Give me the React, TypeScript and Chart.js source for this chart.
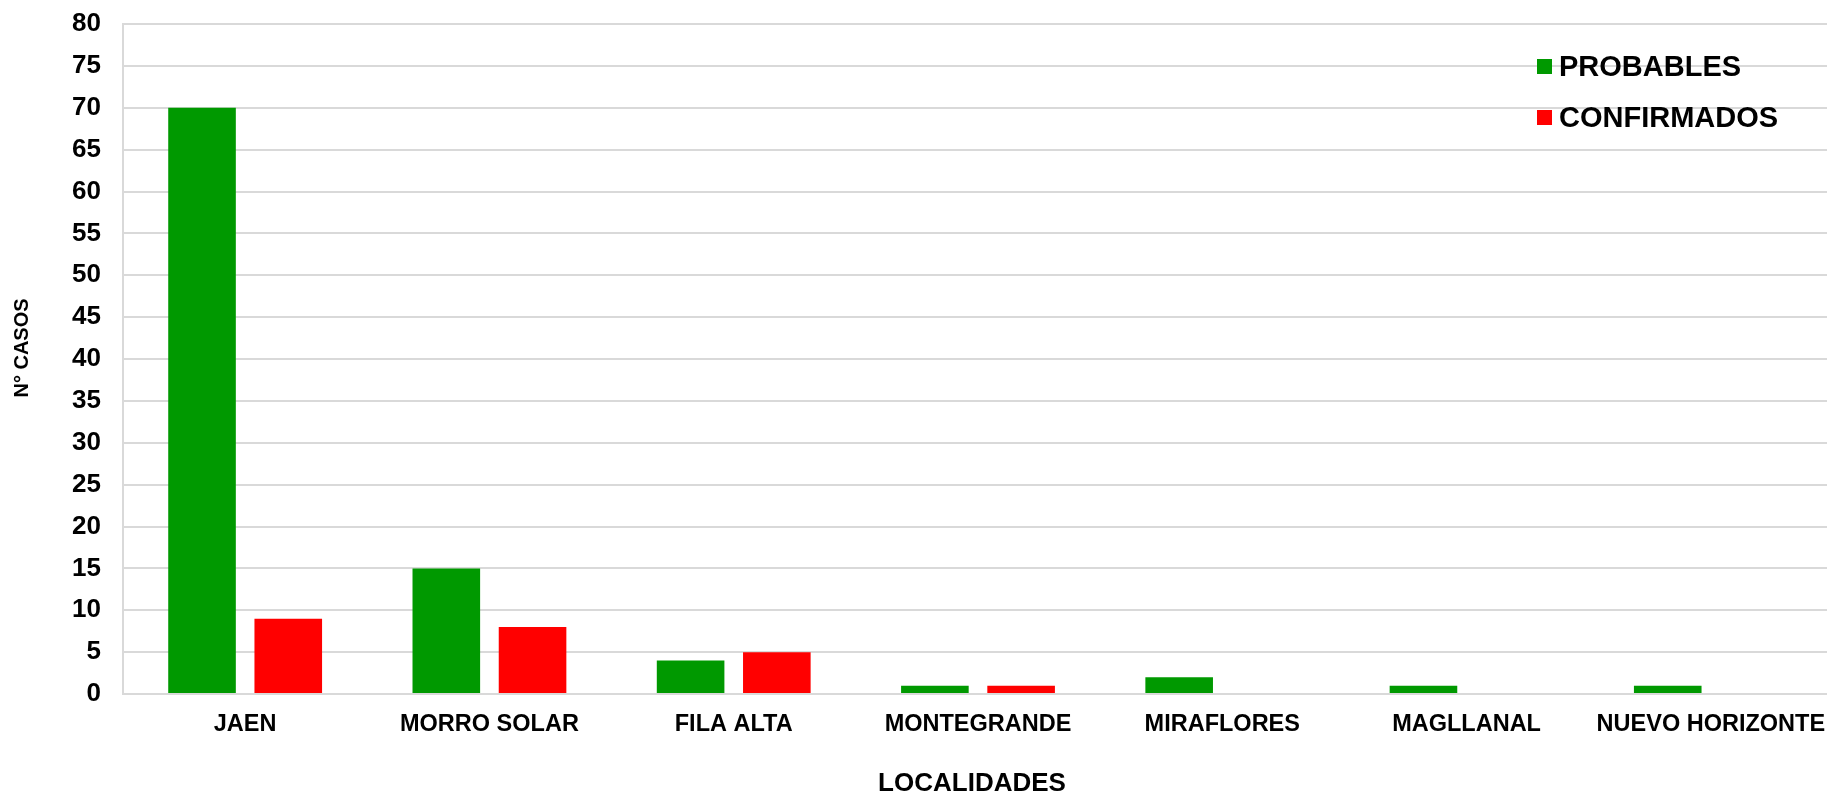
import React, { useEffect, useRef } from "react";
import { Chart, registerables } from "chart.js";

Chart.register(...registerables);

const categories = [
  "JAEN",
  "MORRO SOLAR",
  "FILA ALTA",
  "MONTEGRANDE",
  "MIRAFLORES",
  "MAGLLANAL",
  "NUEVO HORIZONTE",
];
const probables = [70, 15, 4, 1, 2, 1, 1];
const confirmados = [9, 8, 5, 1, 0, 0, 0];
const seriesNames = ["PROBABLES", "CONFIRMADOS"];
const seriesColors = ["#009900", "#FF0000"];
const yTitle = "N° CASOS";
const xTitle = "LOCALIDADES";
const yTickMax = 80;
const yTickStep = 5;

const FONT = "'Liberation Sans', Arial, sans-serif";
const CANVAS_W = 1833;
const VIEW_W = 1827;
const H = 795;

const legendPlugin = {
  id: "customLegend",
  afterDraw(chart: any) {
    const { ctx, chartArea } = chart;
    const x0 = VIEW_W - 290;
    const rowY = [chartArea.top + 42.5, chartArea.top + 93.5];
    ctx.save();
    chart.data.datasets.forEach((ds: any, i: number) => {
      const cy = rowY[i];
      ctx.fillStyle = ds.backgroundColor;
      ctx.fillRect(x0, cy - 7.5, 15, 15);
      ctx.fillStyle = "#000";
      ctx.font = `bold 29px ${FONT}`;
      ctx.textBaseline = "middle";
      ctx.textAlign = "left";
      ctx.fillText(ds.label, x0 + 22, cy + 1);
    });
    ctx.restore();
  },
};

const titlesPlugin = {
  id: "axisTitles",
  afterDraw(chart: any) {
    const { ctx } = chart;
    ctx.save();
    ctx.fillStyle = "#000";
    ctx.textAlign = "center";
    ctx.textBaseline = "middle";
    // y-axis title
    ctx.save();
    ctx.translate(22, 348);
    ctx.rotate(-Math.PI / 2);
    ctx.font = `bold 20px ${FONT}`;
    ctx.fillText(yTitle, 0, 0);
    ctx.restore();
    // x-axis title
    ctx.font = `bold 26px ${FONT}`;
    ctx.fillText(xTitle, 972, 784);
    ctx.restore();
  },
};

export default function App() {
  const ref = useRef<HTMLCanvasElement | null>(null);

  useEffect(() => {
    if (!ref.current) return;
    const chart = new Chart(ref.current, {
      type: "bar",
      data: {
        labels: categories,
        datasets: [
          {
            label: seriesNames[0],
            data: probables,
            backgroundColor: seriesColors[0],
            borderWidth: 0,
            categoryPercentage: 0.706,
            barPercentage: 0.784,
          },
          {
            label: seriesNames[1],
            data: confirmados,
            backgroundColor: seriesColors[1],
            borderWidth: 0,
            categoryPercentage: 0.706,
            barPercentage: 0.784,
          },
        ],
      },
      options: {
        animation: false,
        responsive: false,
        maintainAspectRatio: false,
        layout: { padding: { top: 24, right: 0, bottom: 0, left: 0 } },
        plugins: {
          legend: { display: false },
          tooltip: { enabled: false },
        },
        scales: {
          x: {
            grid: { display: false, drawTicks: false },
            border: { color: "#d9d9d9", width: 2 },
            ticks: {
              color: "#000",
              font: { family: FONT, weight: "bold", size: 23.5 },
              padding: 16,
              maxRotation: 0,
              autoSkip: false,
            },
            title: { display: false },
            afterFit(scale: any) {
              scale.height = 101;
              scale.paddingLeft = 0;
              scale.paddingRight = 0;
            },
          },
          y: {
            min: 0,
            max: yTickMax,
            grid: { color: "#d9d9d9", lineWidth: 2, drawTicks: false },
            border: { color: "#d9d9d9", width: 2 },
            ticks: {
              stepSize: yTickStep,
              color: "#000",
              font: { family: FONT, weight: "bold", size: 26 },
              padding: 22,
            },
            title: { display: false },
            afterFit(scale: any) {
              scale.width = 123;
              scale.paddingTop = 0;
              scale.paddingBottom = 0;
            },
          },
        },
      },
      plugins: [legendPlugin, titlesPlugin],
    });
    return () => chart.destroy();
  }, []);

  return (
    <div
      style={{
        position: "absolute",
        left: 0,
        top: 0,
        width: VIEW_W,
        height: H,
        overflow: "hidden",
        background: "#fff",
      }}
    >
      <canvas ref={ref} width={CANVAS_W} height={H} style={{ display: "block" }} />
    </div>
  );
}
